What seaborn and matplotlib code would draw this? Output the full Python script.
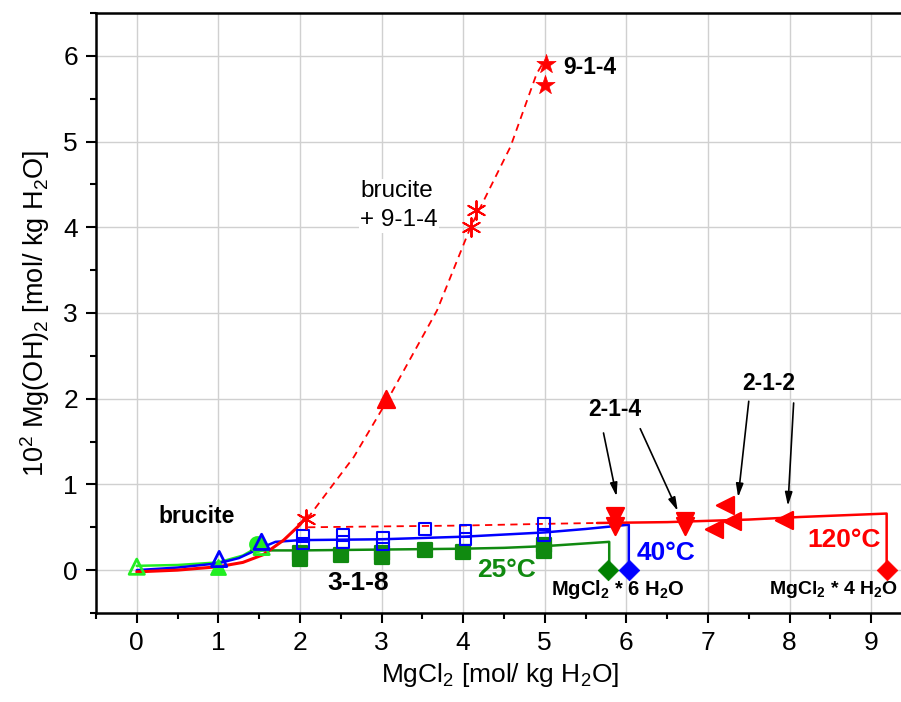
import numpy as np
import pandas as pd
import seaborn as sns
import matplotlib.pyplot as plt

# --- model curves ---
brucite_x = [0, 0.5, 1.0, 1.3, 1.45]
brucite_y = [0.05, 0.06, 0.09, 0.17, 0.25]

c25_x = [1.4, 2.0, 2.5, 3.0, 3.5, 4.0, 4.5, 5.0, 5.79, 5.79]
c25_y = [0.23, 0.23, 0.235, 0.24, 0.245, 0.25, 0.26, 0.28, 0.33, 0.0]

c40_x = [0, 0.5, 1.0, 1.25, 1.5, 1.7, 2.0, 3.0, 4.0, 5.0, 5.5, 6.03, 6.03]
c40_y = [0.0, 0.03, 0.08, 0.14, 0.25, 0.33, 0.35, 0.36, 0.39, 0.44, 0.48, 0.53, 0.0]

c120_low_x = [0, 0.5, 1.0, 1.3, 1.55, 1.8, 2.0, 2.09]
c120_low_y = [-0.02, 0.0, 0.04, 0.09, 0.18, 0.35, 0.53, 0.64]
c120_x = [5.64, 6.5, 7.5, 8.13, 9.19, 9.19]
c120_y = [0.55, 0.56, 0.59, 0.62, 0.66, 0.0]

dash_up_x = [2.09, 2.66, 3.07, 3.68, 4.09, 4.58, 4.9, 5.0]
dash_up_y = [0.6, 1.32, 1.98, 3.03, 4.0, 4.94, 5.79, 5.95]
dash_flat_x = [2.1, 3.0, 4.0, 5.0, 5.64]
dash_flat_y = [0.50, 0.51, 0.52, 0.54, 0.55]

# --- measured points ---
sq25_x = [2.0, 2.0, 2.5, 3.0, 3.0, 3.53, 4.0, 4.99, 4.99]
sq25_y = [0.20, 0.13, 0.18, 0.20, 0.15, 0.24, 0.21, 0.29, 0.22]
sq40_x = [2.04, 2.04, 2.53, 2.53, 3.02, 3.02, 3.53, 4.03, 4.03, 4.99, 4.99]
sq40_y = [0.40, 0.31, 0.41, 0.33, 0.38, 0.30, 0.48, 0.46, 0.36, 0.54, 0.41]
tri214_x = [5.86, 5.86, 6.72, 6.72]
tri214_y = [0.63, 0.51, 0.57, 0.52]
tri212_x = [7.21, 7.29, 7.07, 7.93]
tri212_y = [0.76, 0.57, 0.48, 0.59]
up120_x, up120_y = [3.06], [2.0]
ast_x = [4.1, 4.16, 2.08]
ast_y = [4.0, 4.2, 0.6]
star_x = [5.02, 5.0]
star_y = [5.91, 5.66]
lime_open_x, lime_open_y = [0, 1.53], [0.04, 0.27]
lime_fill_x, lime_fill_y = [1.0], [0.04]
lime_circ_x, lime_circ_y = [1.47], [0.31]
blue_tri_x, blue_tri_y = [1.01, 1.53], [0.13, 0.33]
dia_x = [5.78, 6.03, 9.19]
dia_y = [0.0, 0.0, 0.0]
dia_c = ['#008000', '#0000ff', '#ff0000']

RED, BLUE, GREEN, LIME = '#ff0000', '#0000ff', '#108a10', '#22ee22'

sns.set_style('ticks')
plt.rcParams['font.family'] = ['Liberation Sans', 'DejaVu Sans']
plt.rcParams['mathtext.default'] = 'regular'
plt.rcParams.update({'text.color': 'black', 'axes.labelcolor': 'black',
                     'xtick.color': 'black', 'ytick.color': 'black',
                     'axes.edgecolor': 'black'})

fig = plt.figure(figsize=(9.01, 7.02), dpi=100)
ax = fig.add_axes([0.1065, 0.1268, 0.8966, 0.8547])

ax.grid(True, color='#d0d0d0', lw=1)
ax.set_axisbelow(True)

def line(x, y, color, ls='-', lw=1.8):
    sns.lineplot(x=x, y=y, ax=ax, color=color, sort=False, estimator=None,
                 lw=lw, linestyle=ls)

line(brucite_x, brucite_y, LIME)
line(c25_x, c25_y, GREEN)
line(c40_x, c40_y, BLUE)
line(dash_up_x, dash_up_y, RED, ls=(0, (4, 3)), lw=1.3)
line(dash_flat_x, dash_flat_y, RED, ls=(0, (4, 3)), lw=1.3)
line(c120_low_x, c120_low_y, RED, lw=2.2)
line(c120_x, c120_y, RED)

def pts(x, y, marker, s, fc, ec, lw=1.6):
    sns.scatterplot(x=x, y=y, ax=ax, marker=marker, s=s, facecolor=fc,
                    edgecolor=ec, linewidth=lw, zorder=3)

pts(lime_fill_x, lime_fill_y, '^', 110, LIME, LIME)
pts(lime_circ_x, lime_circ_y, 'o', 110, LIME, LIME)
pts(lime_open_x, lime_open_y, '^', 120, 'none', LIME, 2)
pts(blue_tri_x, blue_tri_y, '^', 120, 'none', BLUE, 2)
pts(sq25_x, sq25_y, 's', 90, GREEN, GREEN)
pts(sq40_x, sq40_y, 's', 70, 'none', BLUE, 1.5)
pts(tri214_x, tri214_y, 'v', 150, RED, RED)
pts(tri212_x, tri212_y, '<', 150, RED, RED)
pts(up120_x, up120_y, '^', 150, RED, RED)
pts(ast_x, ast_y, (6, 2, 0), 180, RED, RED, 1.4)
pts(star_x, star_y, '*', 210, RED, RED, 0.5)
for xd, yd, cd in zip(dia_x, dia_y, dia_c):
    pts([xd], [yd], 'D', 110, cd, cd, 0.5)

# --- labels ---
bold = dict(fontweight='bold')
ax.text(5.23, 5.86, '9-1-4', fontsize=16.5, va='center', **bold)
ax.text(2.74, 4.25, 'brucite\n+ 9-1-4', fontsize=17.5, va='center', linespacing=1.4,
        bbox=dict(facecolor='white', edgecolor='none', pad=1))
ax.text(0.73, 0.62, 'brucite', fontsize=16.5, ha='center', va='center', **bold)
ax.text(2.71, -0.15, '3-1-8', fontsize=19, ha='center', va='center', **bold)
ax.text(4.53, 0.0, '25°C', fontsize=19, ha='center', va='center', color=GREEN, **bold)
ax.text(6.48, 0.2, '40°C', fontsize=19, ha='center', va='center', color=BLUE, **bold)
ax.text(8.67, 0.35, '120°C', fontsize=19, ha='center', va='center', color=RED, **bold)
ax.text(5.9, -0.23, r'MgCl$_2$ * 6 H$_2$O', fontsize=14.5, ha='center', va='center', **bold)
ax.text(9.33, -0.23, r'MgCl$_2$ * 4 H$_2$O', fontsize=14, ha='right', va='center',
        clip_on=False, **bold)
ax.text(5.86, 1.87, '2-1-4', fontsize=16.5, ha='center', va='center', **bold)
ax.text(7.74, 2.18, '2-1-2', fontsize=16.5, ha='center', va='center', **bold)

arrows = [((5.72, 1.6), (5.88, 0.86)), ((6.17, 1.65), (6.63, 0.69)),
          ((7.5, 1.97), (7.37, 0.85)), ((8.05, 1.95), (7.98, 0.75))]
for start, end in arrows:
    ax.annotate('', xy=end, xytext=start,
                arrowprops=dict(arrowstyle='-|>,head_length=0.8,head_width=0.22',
                                color='black', lw=1.2, shrinkA=0, shrinkB=0))

ax.set_xlim(-0.5, 9.4)
ax.set_ylim(-0.5, 6.5)
ax.set_xticks(range(0, 10))
ax.set_xticks(np.arange(-0.5, 9.5, 0.5), minor=True)
ax.set_yticks(range(0, 7))
ax.set_yticks(np.arange(-0.5, 6.6, 0.5), minor=True)
ax.tick_params(which='major', direction='out', length=7, width=1.5,
               labelsize=19, pad=6, top=False, right=False)
ax.tick_params(which='minor', direction='out', length=4, width=1.5,
               top=False, right=False)
for sp in ax.spines.values():
    sp.set_linewidth(1.8)

ax.set_xlabel(r'MgCl$_2$ [mol/ kg H$_2$O]', fontsize=19, labelpad=4)
ax.set_ylabel(r'10$^2$ Mg(OH)$_2$ [mol/ kg H$_2$O]', fontsize=19.5, labelpad=8)

fig.savefig('out.png', dpi=100)
